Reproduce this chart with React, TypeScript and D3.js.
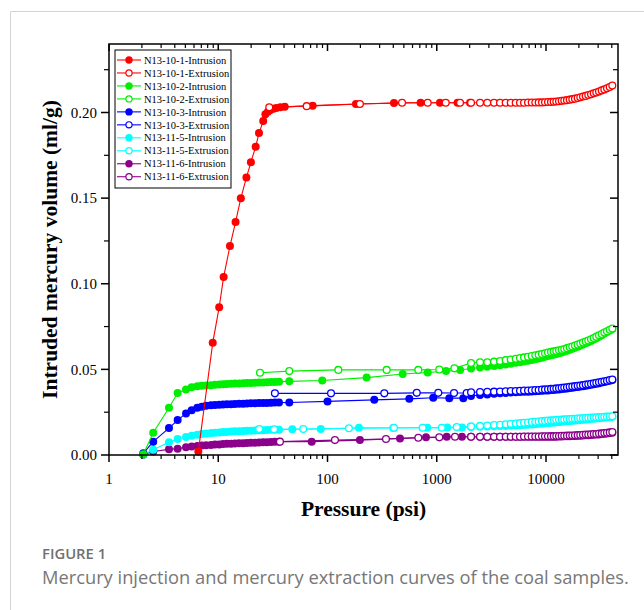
import React from 'react';
import * as d3 from 'd3';

// ---------- data ----------
const sampleNames = ['N13-10-1', 'N13-10-2', 'N13-10-3', 'N13-11-5', 'N13-11-6'];
const sampleColors = ['#ff0000', '#00ee00', '#0000ff', '#00ffff', '#8b008b'];

// shared low-pressure intrusion table (psi)
const lowIntrusionP = [2.06, 2.54, 3.54, 4.25, 5.07, 5.71, 6.43, 7.06, 7.73, 8.58, 9.34, 10.2, 11.05, 12.0, 13.1, 14.2, 15.5, 16.9, 18.3, 19.9, 21.7, 23.6, 25.7, 27.9, 30.4, 33.0, 36.0];
// shared high-pressure table (psi)
const highP = [2060, 2490, 2900, 3345, 3795, 4277, 4753, 5280, 5780, 6290, 6845, 7400, 7980, 8570, 9190, 9790, 10430, 11110, 11750, 12420, 13150, 13920, 14700, 15560, 16470, 17400, 18410, 19500, 20600, 21800, 23080, 24380, 25820, 27340, 28860, 30550, 32340, 34200, 36150, 38280, 40450];

// N13-10-1
const redIntrusionP = [6.57, 8.9, 10.2, 11.2, 12.8, 14.4, 16.1, 18.1, 19.9, 22.0, 23.6, 25.8, 27.0, 28.5, 30.0, 32.0, 34.0, 37.0, 40.6, 73.1, 182, 406, 711, 1070, 1550, 2015];
const redIntrusionV = [0.002, 0.0655, 0.0863, 0.104, 0.122, 0.136, 0.150, 0.162, 0.171, 0.180, 0.188, 0.195, 0.199, 0.2005, 0.2015, 0.2022, 0.2027, 0.2031, 0.2033, 0.2040, 0.2050, 0.2055, 0.2057, 0.2057, 0.2057, 0.2057];
const redExtrusionLowP = [29.3, 64.5, 198, 481, 826, 1208, 1634];
const redExtrusionLowV = [0.2031, 0.2037, 0.2050, 0.2057, 0.2057, 0.2057, 0.2057];
const redExtrusionHighV = [0.2057, 0.2057, 0.2057, 0.2057, 0.2057, 0.2057, 0.2057, 0.2057, 0.2057, 0.2057, 0.2058, 0.2058, 0.2058, 0.2059, 0.2059, 0.2060, 0.2061, 0.2062, 0.2063, 0.2064, 0.2066, 0.2068, 0.2070, 0.2072, 0.2075, 0.2078, 0.2081, 0.2085, 0.2089, 0.2093, 0.2097, 0.2102, 0.2107, 0.2112, 0.2117, 0.2123, 0.2129, 0.2135, 0.2142, 0.2149, 0.2157];

// N13-10-2
const greenLowIntrusionV = [0.0004, 0.0130, 0.0276, 0.0362, 0.0383, 0.0395, 0.0401, 0.0404, 0.0406, 0.0408, 0.0410, 0.0412, 0.0413, 0.0415, 0.0416, 0.0417, 0.0418, 0.0419, 0.0420, 0.0421, 0.0422, 0.0423, 0.0424, 0.0425, 0.0426, 0.0427, 0.0428];
const greenMidIntrusionP = [44.7, 89.5, 228, 488, 826, 1216, 1634];
const greenMidIntrusionV = [0.0430, 0.0435, 0.0452, 0.0473, 0.0482, 0.0490, 0.0496];
const greenHighIntrusionV = [0.0505, 0.0511, 0.0516, 0.0520, 0.0524, 0.0529, 0.0533, 0.0538, 0.0542, 0.0546, 0.0550, 0.0555, 0.0559, 0.0564, 0.0568, 0.0573, 0.0578, 0.0582, 0.0586, 0.0590, 0.0594, 0.0599, 0.0604, 0.0609, 0.0615, 0.0620, 0.0626, 0.0632, 0.0639, 0.0645, 0.0652, 0.0659, 0.0666, 0.0674, 0.0682, 0.0691, 0.0700, 0.0709, 0.0718, 0.0727, 0.0736];
const greenExtrusionLowP = [24.1, 44.7, 125.6, 348, 678, 1055, 1449];
const greenExtrusionLowV = [0.0480, 0.0490, 0.0497, 0.0497, 0.0497, 0.0499, 0.0506];
const greenExtrusionHighV = [0.0537, 0.0541, 0.0542, 0.0545, 0.0549, 0.0554, 0.0558, 0.0562, 0.0566, 0.0570, 0.0574, 0.0578, 0.0582, 0.0586, 0.0590, 0.0594, 0.0598, 0.0602, 0.0605, 0.0608, 0.0611, 0.0615, 0.0619, 0.0624, 0.0629, 0.0634, 0.0639, 0.0645, 0.0651, 0.0657, 0.0663, 0.0669, 0.0676, 0.0683, 0.0691, 0.0699, 0.0707, 0.0715, 0.0723, 0.0731, 0.0739];

// N13-10-3
const blueLowIntrusionV = [0.0010, 0.0078, 0.0157, 0.0204, 0.0243, 0.0262, 0.0276, 0.0282, 0.0287, 0.0290, 0.0292, 0.0294, 0.0295, 0.0296, 0.0297, 0.0298, 0.0299, 0.0300, 0.0301, 0.0302, 0.0302, 0.0303, 0.0304, 0.0304, 0.0305, 0.0306, 0.0306];
const blueMidIntrusionP = [44.7, 100, 268, 561, 929, 1303, 1750];
const blueMidIntrusionV = [0.0307, 0.0313, 0.0322, 0.0328, 0.0334, 0.0332, 0.0332];
const blueHighIntrusionV = [0.0345, 0.0350, 0.0353, 0.0357, 0.0360, 0.0362, 0.0365, 0.0366, 0.0368, 0.0369, 0.0370, 0.0371, 0.0372, 0.0373, 0.0375, 0.0376, 0.0377, 0.0379, 0.0380, 0.0382, 0.0383, 0.0385, 0.0387, 0.0389, 0.0391, 0.0393, 0.0395, 0.0397, 0.0400, 0.0402, 0.0405, 0.0407, 0.0410, 0.0413, 0.0416, 0.0419, 0.0423, 0.0426, 0.0430, 0.0434, 0.0438];
const blueExtrusionLowP = [33.0, 107.7, 331, 656, 1033, 1439, 1880];
const blueExtrusionLowV = [0.0360, 0.0360, 0.0360, 0.0363, 0.0363, 0.0362, 0.0362];
const blueExtrusionHighV = [0.0366, 0.0368, 0.0369, 0.0370, 0.0371, 0.0372, 0.0373, 0.0374, 0.0375, 0.0376, 0.0377, 0.0378, 0.0379, 0.0380, 0.0382, 0.0383, 0.0384, 0.0386, 0.0387, 0.0389, 0.0390, 0.0392, 0.0394, 0.0396, 0.0398, 0.0400, 0.0402, 0.0404, 0.0406, 0.0408, 0.0411, 0.0413, 0.0416, 0.0419, 0.0422, 0.0425, 0.0428, 0.0431, 0.0434, 0.0438, 0.0441];

// N13-11-5
const cyanLowIntrusionV = [0.0003, 0.0030, 0.0075, 0.0093, 0.0105, 0.0112, 0.0118, 0.0122, 0.0125, 0.0128, 0.0130, 0.0132, 0.0134, 0.0135, 0.0137, 0.0138, 0.0139, 0.0140, 0.0141, 0.0142, 0.0143, 0.0144, 0.0145, 0.0146, 0.0147, 0.0148, 0.0148];
const cyanMidIntrusionP = [47.6, 86.7, 194, 400, 820, 1250, 1700];
const cyanMidIntrusionV = [0.0150, 0.0152, 0.0159, 0.0158, 0.0159, 0.0160, 0.0161];
const cyanHighIntrusionV = [0.0163, 0.0165, 0.0166, 0.0168, 0.0169, 0.0170, 0.0171, 0.0172, 0.0173, 0.0175, 0.0176, 0.0178, 0.0180, 0.0182, 0.0183, 0.0185, 0.0187, 0.0188, 0.0190, 0.0191, 0.0193, 0.0194, 0.0196, 0.0197, 0.0199, 0.0200, 0.0202, 0.0203, 0.0205, 0.0206, 0.0208, 0.0209, 0.0211, 0.0212, 0.0214, 0.0215, 0.0217, 0.0218, 0.0220, 0.0221, 0.0223];
const cyanExtrusionLowP = [23.7, 32.4, 60.0, 157, 406, 743, 1110, 1523];
const cyanExtrusionLowV = [0.0152, 0.0150, 0.0152, 0.0156, 0.0159, 0.0159, 0.0159, 0.0163];
const cyanExtrusionHighV = [0.0167, 0.0170, 0.0172, 0.0175, 0.0177, 0.0180, 0.0182, 0.0184, 0.0186, 0.0188, 0.0190, 0.0192, 0.0194, 0.0196, 0.0198, 0.0199, 0.0201, 0.0202, 0.0203, 0.0205, 0.0206, 0.0207, 0.0208, 0.0209, 0.0210, 0.0211, 0.0212, 0.0213, 0.0214, 0.0215, 0.0216, 0.0217, 0.0218, 0.0219, 0.0220, 0.0221, 0.0222, 0.0223, 0.0224, 0.0225, 0.0226];

// N13-11-6
const purpleLowIntrusionV = [0.0002, 0.0020, 0.0033, 0.0037, 0.0045, 0.0049, 0.0052, 0.0055, 0.0057, 0.0059, 0.0061, 0.0062, 0.0064, 0.0065, 0.0066, 0.0067, 0.0068, 0.0069, 0.0070, 0.0071, 0.0072, 0.0073, 0.0074, 0.0075, 0.0076, 0.0077, 0.0078];
const purpleMidIntrusionP = [71.7, 198, 461, 797, 1233, 1700];
const purpleMidIntrusionV = [0.0078, 0.0087, 0.0097, 0.0103, 0.0107, 0.0107];
const purpleHighIntrusionV = [0.0106, 0.0106, 0.0106, 0.0106, 0.0106, 0.0106, 0.0106, 0.0106, 0.0106, 0.0106, 0.0106, 0.0106, 0.0106, 0.0106, 0.0106, 0.0106, 0.0106, 0.0107, 0.0107, 0.0107, 0.0108, 0.0108, 0.0109, 0.0109, 0.0110, 0.0111, 0.0111, 0.0112, 0.0113, 0.0114, 0.0115, 0.0116, 0.0117, 0.0118, 0.0119, 0.0120, 0.0122, 0.0124, 0.0126, 0.0128, 0.0130];
const purpleExtrusionLowP = [36.7, 117, 343, 678, 1055, 1469];
const purpleExtrusionLowV = [0.0078, 0.0087, 0.0093, 0.0101, 0.0103, 0.0107];
const purpleExtrusionHighV = [0.0107, 0.0107, 0.0107, 0.0107, 0.0107, 0.0107, 0.0107, 0.0107, 0.0107, 0.0108, 0.0108, 0.0108, 0.0108, 0.0108, 0.0109, 0.0109, 0.0109, 0.0110, 0.0110, 0.0111, 0.0111, 0.0112, 0.0112, 0.0113, 0.0114, 0.0114, 0.0115, 0.0116, 0.0117, 0.0118, 0.0119, 0.0120, 0.0121, 0.0122, 0.0123, 0.0125, 0.0126, 0.0128, 0.0130, 0.0132, 0.0134];

const xMajorTicks = [1, 10, 100, 1000, 10000];
const xTickLabels = ['1', '10', '100', '1000', '10000'];
const yMajorTicks = [0, 0.05, 0.1, 0.15, 0.2];
const yTickLabels = ['0.00', '0.05', '0.10', '0.15', '0.20'];
const yMinorTicks = [0.025, 0.075, 0.125, 0.175, 0.225];

// ---------- build ----------
type Pt = [number, number];
const zip = (p: number[], v: number[]): Pt[] => {
  const n = Math.min(p.length, v.length);
  const out: Pt[] = [];
  for (let i = 0; i < n; i++) out.push([p[i], v[i]]);
  return out;
};

const intrusionData: Pt[][] = [
  zip(redIntrusionP, redIntrusionV),
  [...zip(lowIntrusionP, greenLowIntrusionV), ...zip(greenMidIntrusionP, greenMidIntrusionV), ...zip(highP, greenHighIntrusionV)],
  [...zip(lowIntrusionP, blueLowIntrusionV), ...zip(blueMidIntrusionP, blueMidIntrusionV), ...zip(highP, blueHighIntrusionV)],
  [...zip(lowIntrusionP, cyanLowIntrusionV), ...zip(cyanMidIntrusionP, cyanMidIntrusionV), ...zip(highP, cyanHighIntrusionV)],
  [...zip(lowIntrusionP, purpleLowIntrusionV), ...zip(purpleMidIntrusionP, purpleMidIntrusionV), ...zip(highP, purpleHighIntrusionV)],
];
const extrusionData: Pt[][] = [
  [...zip(redExtrusionLowP, redExtrusionLowV), ...zip(highP, redExtrusionHighV)],
  [...zip(greenExtrusionLowP, greenExtrusionLowV), ...zip(highP, greenExtrusionHighV)],
  [...zip(blueExtrusionLowP, blueExtrusionLowV), ...zip(highP, blueExtrusionHighV)],
  [...zip(cyanExtrusionLowP, cyanExtrusionLowV), ...zip(highP, cyanExtrusionHighV)],
  [...zip(purpleExtrusionLowP, purpleExtrusionLowV), ...zip(highP, purpleExtrusionHighV)],
];

const SERIF = '"Liberation Serif", "Times New Roman", serif';
const SANS = '"Open Sans", "Noto Sans", sans-serif';

export default function App() {
  const L = 109, R = 618, T = 44, B = 455;
  const x = d3.scaleLog().domain([1, 45600]).range([L, R]);
  const y = d3.scaleLinear().domain([0, 0.24]).range([B, T]);
  const line = d3.line<Pt>().x(d => x(d[0])).y(d => y(d[1]));

  const xMinor: number[] = [];
  for (let e = 0; e < 5; e++) for (let k = 2; k <= 9; k++) {
    const v = k * Math.pow(10, e);
    if (v < 45600) xMinor.push(v);
  }

  const order = [4, 3, 2, 1, 0];
  const rFill = 4;
  const rOpen = 3.4;

  const legendItems: { name: string; color: string; filled: boolean }[] = [];
  sampleNames.forEach((n, i) => {
    legendItems.push({ name: `${n}-Intrusion`, color: sampleColors[i], filled: true });
    legendItems.push({ name: `${n}-Extrusion`, color: sampleColors[i], filled: false });
  });

  return (
    <svg width={644} height={610} style={{ position: 'absolute', left: 0, top: 0, background: '#fff' }}>
      {/* page frame */}
      <line x1={10.5} y1={11.5} x2={644} y2={11.5} stroke="#d4d4d4" strokeWidth={1} />
      <line x1={10.5} y1={11.5} x2={10.5} y2={610} stroke="#d4d4d4" strokeWidth={1} />

      {/* series */}
      <g>
        {order.map(i => (
          <g key={i}>
            <path d={line(intrusionData[i]) || ''} fill="none" stroke={sampleColors[i]} strokeWidth={1.1} />
            {intrusionData[i].map((d, j) => (
              <circle key={j} cx={x(d[0])} cy={y(d[1])} r={rFill} fill={sampleColors[i]} />
            ))}
            <path d={line(extrusionData[i]) || ''} fill="none" stroke={sampleColors[i]} strokeWidth={1.1} />
            {extrusionData[i].map((d, j) => (
              <circle key={j} cx={x(d[0])} cy={y(d[1])} r={rOpen} fill="#fff" stroke={sampleColors[i]} strokeWidth={1.3} />
            ))}
          </g>
        ))}
      </g>

      {/* axes frame */}
      <rect x={L} y={T} width={R - L} height={B - T} fill="none" stroke="#000" strokeWidth={1.5} />

      {/* x ticks bottom (outward) and top (inward) */}
      {xMajorTicks.map((t, i) => (
        <g key={'xm' + i}>
          <line x1={x(t)} x2={x(t)} y1={B} y2={B + 7} stroke="#000" strokeWidth={1.5} />
          <line x1={x(t)} x2={x(t)} y1={T} y2={T + 7} stroke="#000" strokeWidth={1.5} />
          <text x={x(t)} y={484} textAnchor="middle" fontFamily={SERIF} fontSize={15}>{xTickLabels[i]}</text>
        </g>
      ))}
      {xMinor.map((t, i) => (
        <g key={'xn' + i}>
          <line x1={x(t)} x2={x(t)} y1={B} y2={B + 4} stroke="#000" strokeWidth={1.2} />
          <line x1={x(t)} x2={x(t)} y1={T} y2={T + 4} stroke="#000" strokeWidth={1.2} />
        </g>
      ))}

      {/* y ticks left (outward) and right (inward) */}
      {yMajorTicks.map((t, i) => (
        <g key={'ym' + i}>
          <line x1={L - 8} x2={L} y1={y(t)} y2={y(t)} stroke="#000" strokeWidth={1.5} />
          <line x1={R - 8} x2={R} y1={y(t)} y2={y(t)} stroke="#000" strokeWidth={1.5} />
          <text x={97} y={y(t)} dy="0.35em" textAnchor="end" fontFamily={SERIF} fontSize={15}>{yTickLabels[i]}</text>
        </g>
      ))}
      {yMinorTicks.map((t, i) => (
        <g key={'yn' + i}>
          <line x1={L - 5} x2={L} y1={y(t)} y2={y(t)} stroke="#000" strokeWidth={1.2} />
          <line x1={R - 5} x2={R} y1={y(t)} y2={y(t)} stroke="#000" strokeWidth={1.2} />
        </g>
      ))}

      {/* axis titles */}
      <text x={(L + R) / 2} y={516} textAnchor="middle" fontFamily={SERIF} fontSize={21.5} fontWeight="bold">Pressure (psi)</text>
      <text transform={`translate(57,${(T + B) / 2}) rotate(-90)`} textAnchor="middle" fontFamily={SERIF} fontSize={21.5} fontWeight="bold">Intruded mercury volume (ml/g)</text>

      {/* legend */}
      <g>
        <rect x={115} y={50} width={116} height={138} fill="#fff" stroke="#000" strokeWidth={1} />
        {legendItems.map((it, i) => {
          const ly = 60 + i * 12.97;
          return (
            <g key={'lg' + i}>
              <line x1={117} x2={141} y1={ly} y2={ly} stroke={it.color} strokeWidth={1.1} />
              {it.filled
                ? <circle cx={129} cy={ly} r={3.7} fill={it.color} />
                : <circle cx={129} cy={ly} r={3.1} fill="#fff" stroke={it.color} strokeWidth={1.2} />}
              <text x={144} y={ly} dy="0.35em" fontFamily={SERIF} fontSize={10.5}>{it.name}</text>
            </g>
          );
        })}
      </g>

      {/* caption */}
      <text x={42} y={559} fontFamily={SANS} fontSize={14.8} fontWeight={600} fill="#707070">FIGURE 1</text>
      <text x={42} y={584} fontFamily={SANS} fontSize={18.3} fill="#777777">Mercury injection and mercury extraction curves of the coal samples.</text>
    </svg>
  );
}
